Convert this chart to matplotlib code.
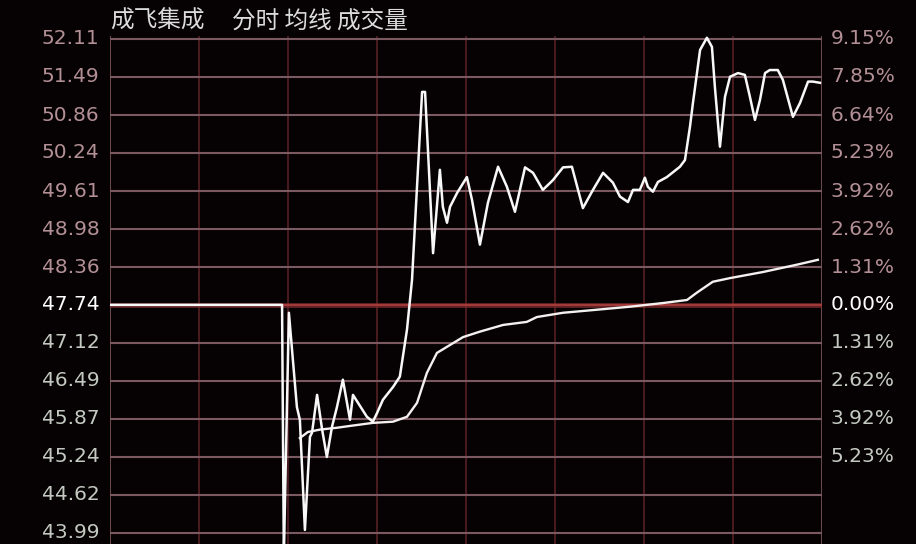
import matplotlib.pyplot as plt

plt.rcParams['font.family'] = ['Noto Sans CJK SC', 'DejaVu Sans']

# 成飞集成 intraday (minutes since open, 0..240)
prev_close = 47.74

price_min = [0, 58.0, 58.6, 60.3, 63.0, 64.0, 65.7, 67.4, 68.1, 69.8, 71.5, 73.1, 74.8,
             76.5, 78.5, 80.9, 81.9, 86.6, 88.6, 90.0, 92.0, 95.4, 97.7, 100.1, 101.8,
             105.2, 106.2, 108.9, 111.2, 112.2, 113.6, 114.6, 117.0, 120.3, 122.0, 124.7,
             127.4, 130.8, 133.8, 136.5, 139.9, 142.6, 145.9, 149.3, 152.7, 155.7, 159.4,
             162.8, 166.2, 169.5, 171.9, 174.6, 176.3, 178.6, 180.3, 181.3, 183.0, 184.7,
             187.7, 192.1, 193.8, 195.5, 196.5, 198.9, 201.2, 202.9, 203.9, 205.6, 207.3,
             209.0, 211.7, 214.0, 215.7, 217.4, 219.1, 220.8, 222.4, 225.1, 226.8, 230.2,
             232.6, 235.3, 236.9, 239.3]
price = [47.74, 47.74, 43.60, 47.61, 46.06, 45.85, 44.04, 45.57, 45.64, 46.26, 45.69, 45.24,
         45.73, 46.06, 46.51, 45.85, 46.26, 45.90, 45.82, 45.96, 46.18, 46.39, 46.56, 47.33,
         48.15, 51.24, 51.24, 48.59, 49.96, 49.35, 49.09, 49.35, 49.58, 49.84, 49.47, 48.73,
         49.42, 50.01, 49.68, 49.27, 50.00, 49.91, 49.63, 49.79, 50.00, 50.01, 49.33, 49.63,
         49.91, 49.75, 49.52, 49.43, 49.63, 49.63, 49.83, 49.68, 49.60, 49.76, 49.84, 50.01,
         50.12, 50.67, 51.06, 51.93, 52.13, 51.98, 51.32, 50.34, 51.16, 51.49, 51.55, 51.52,
         51.16, 50.78, 51.11, 51.55, 51.60, 51.60, 51.44, 50.83, 51.06, 51.41, 51.41, 51.39]

avg_min = [64.0, 66.7, 70.8, 76.5, 80.9, 88.6, 95.4, 100.1, 103.5, 106.8, 110.2, 114.6,
           119.0, 124.7, 132.5, 140.5, 143.9, 152.7, 164.1, 175.3, 186.4, 194.5, 197.8,
           203.2, 209.0, 220.1, 231.5, 238.6]
avg = [45.55, 45.65, 45.69, 45.72, 45.75, 45.80, 45.82, 45.90, 46.13, 46.62, 46.95, 47.08,
       47.21, 47.30, 47.41, 47.46, 47.54, 47.61, 47.66, 47.71, 47.77, 47.82, 47.94,
       48.12, 48.18, 48.28, 48.40, 48.48]

left_labels = ['52.11', '51.49', '50.86', '50.24', '49.61', '48.98', '48.36', '47.74',
               '47.12', '46.49', '45.87', '45.24', '44.62', '43.99']
right_labels = ['9.15%', '7.85%', '6.64%', '5.23%', '3.92%', '2.62%', '1.31%', '0.00%',
                '1.31%', '2.62%', '3.92%', '5.23%', '', '']
time_grid = [0, 30, 60, 90, 120, 150, 180, 210, 240]

bg = '#060203'
fig = plt.figure(figsize=(9.16, 5.44), dpi=100, facecolor=bg)
W, H = 916, 544
ax = fig.add_axes([110 / W, 0, (822 - 110) / W, (544 - 36) / H], facecolor=bg)

ax.set_xlim(0, 240)
step = (52.11 - 43.99) / 13
ax.set_ylim(43.99 - 11 / 38 * step, 52.11 + 3 / 38 * step)
for s in ax.spines.values():
    s.set_visible(False)
ax.set_xticks([])
ax.set_yticks([])

# grid
for t in time_grid:
    col = '#6e4a50' if t in (0, 240) else '#4a1a1e'
    ax.axvline(t, color=col, lw=1.4, zorder=1)
for lab in left_labels:
    v = float(lab)
    if lab == '47.74':
        ax.axhline(v, color='#7a2a2a', lw=3.5, alpha=0.8, zorder=1)
        ax.axhline(v, color='#b04040', lw=1.2, zorder=1)
    else:
        ax.axhline(v, color='#7a5a60', lw=1.5, zorder=1)

ax.plot(avg_min, avg, color='#f4f0f0', lw=1.7, zorder=3)
ax.plot(price_min, price, color='#f8f8f8', lw=1.8, zorder=4)

# axis labels
for lab, rlab in zip(left_labels, right_labels):
    v = float(lab)
    if v > prev_close:
        c = '#b39096'
    elif v == prev_close:
        c = '#ffffff'
    else:
        c = '#c4cac2'
    ax.text(-3.5, v, lab, color=c, fontsize=14.5, ha='right', va='center',
            family='DejaVu Sans')
    if rlab:
        ax.text(243, v, rlab, color=c, fontsize=14.5, ha='left', va='center',
                family='DejaVu Sans')

fig.text(110 / W, 1 - 21 / H, '成飞集成', color='#dcdcdc', fontsize=17, va='center')
fig.text(232 / W, 1 - 21 / H, '分时 均线 成交量', color='#dcdcdc', fontsize=17, va='center')

fig.savefig('out.png', dpi=100, facecolor=bg)
